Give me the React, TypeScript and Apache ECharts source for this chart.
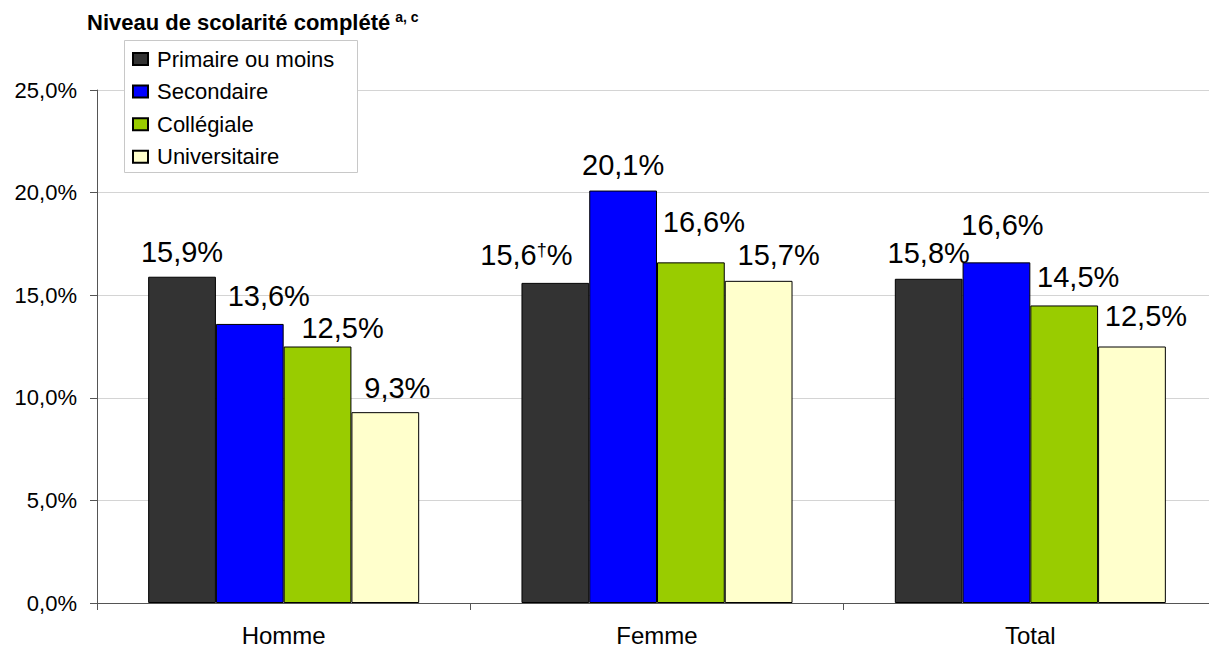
import React, { useEffect, useRef } from "react";
import * as echarts from "echarts";

const categories = ["Homme", "Femme", "Total"];
const seriesNames = ["Primaire ou moins", "Secondaire", "Collégiale", "Universitaire"];
const primaire = [15.9, 15.6, 15.8];
const secondaire = [13.6, 20.1, 16.6];
const collegiale = [12.5, 16.6, 14.5];
const universitaire = [9.3, 15.7, 12.5];
const primaireNotes = ["", "†", ""];
const noNotes = ["", "", ""];
const yTicks = [0, 5, 10, 15, 20, 25];

// styling (not data)
const colors = ["#333333", "#0000ff", "#99cc00", "#ffffcc"];
const labelOffsets = [
  [[0, -11], [-29, -14], [0, -11.5]],
  [[19, -14], [0, -12], [6, -23]],
  [[25, -5], [13, -26.5], [14, -14]],
  [[12, -10.5], [20, -12], [14, -16.5]],
];

const FONT = "'Liberation Sans', Arial, Helvetica, sans-serif";
const fmt = (v: number) => v.toFixed(1).replace(".", ",");

export default function App() {
  const ref = useRef<HTMLDivElement>(null);
  useEffect(() => {
    if (!ref.current) return;
    const chart = echarts.init(ref.current, null, { renderer: "svg" });
    const values = [primaire, secondaire, collegiale, universitaire];
    const notes = [primaireNotes, noNotes, noNotes, noNotes];
    chart.setOption({
      animation: false,
      textStyle: { fontFamily: FONT },
      title: {
        left: 87,
        top: 10,
        padding: 0,
        text: "{t|Niveau de scolarité complété} {s|a, c}",
        textStyle: {
          rich: {
            t: { fontFamily: FONT, fontWeight: "bold", fontSize: 22, color: "#000", lineHeight: 24 },
            s: { fontFamily: FONT, fontWeight: "bold", fontSize: 14, color: "#000", verticalAlign: "top", lineHeight: 14 },
          },
        },
      },
      graphic: [
        {
          type: "rect",
          left: 124,
          top: 40,
          shape: { width: 233, height: 132 },
          style: { fill: "#ffffff", stroke: "#c8c8c8", lineWidth: 1 },
          z: 5,
        },
      ],
      legend: {
        orient: "vertical",
        left: 124,
        top: 40,
        padding: [8, 8, 8, 8],
        itemWidth: 15,
        itemHeight: 12,
        itemGap: 10.6,
        icon: "rect",
        z: 10,
        textStyle: { fontFamily: FONT, fontSize: 22, color: "#000", padding: [0, 0, 0, 4] },
        data: seriesNames,
      },
      grid: { left: 97, top: 90, width: 1120, height: 513, outerBoundsMode: "none", containLabel: false },
      xAxis: {
        type: "category",
        data: categories,
        axisLine: { lineStyle: { color: "#555", width: 1 } },
        axisTick: { show: true, length: 7, lineStyle: { color: "#555" } },
        axisLabel: { fontFamily: FONT, fontSize: 24, color: "#000", margin: 20 },
      },
      yAxis: {
        type: "value",
        min: yTicks[0],
        max: yTicks[yTicks.length - 1],
        interval: yTicks[1] - yTicks[0],
        axisLine: { show: true, lineStyle: { color: "#555", width: 1 } },
        axisTick: { show: true, length: 7, lineStyle: { color: "#555" } },
        splitLine: { lineStyle: { color: "#d4d4d4", width: 1 } },
        axisLabel: {
          fontFamily: FONT,
          fontSize: 22,
          color: "#000",
          margin: 20,
          formatter: (v: number) => fmt(v) + "%",
        },
      },
      series: seriesNames.map((name, si) => ({
        name,
        type: "bar",
        barGap: "0%",
        barCategoryGap: "27.4%",
        itemStyle: { color: colors[si], borderColor: "#000", borderWidth: 1 },
        data: values[si].map((v, ci) => ({
          value: v,
          label: {
            show: true,
            position: "top",
            distance: 0,
            offset: labelOffsets[si][ci],
            formatter: notes[si][ci]
              ? fmt(v) + "{sup|" + notes[si][ci] + "}%"
              : fmt(v) + "%",
            fontFamily: FONT,
            fontSize: 29,
            lineHeight: 28,
            color: "#000",
            rich: {
              sup: { fontFamily: FONT, fontSize: 18, color: "#000", verticalAlign: "top", lineHeight: 17 },
            },
          },
        })),
      })),
    });
    return () => chart.dispose();
  }, []);
  return (
    <div
      ref={ref}
      style={{ position: "absolute", left: 0, top: 0, width: 1209, height: 647, background: "#fff" }}
    />
  );
}
